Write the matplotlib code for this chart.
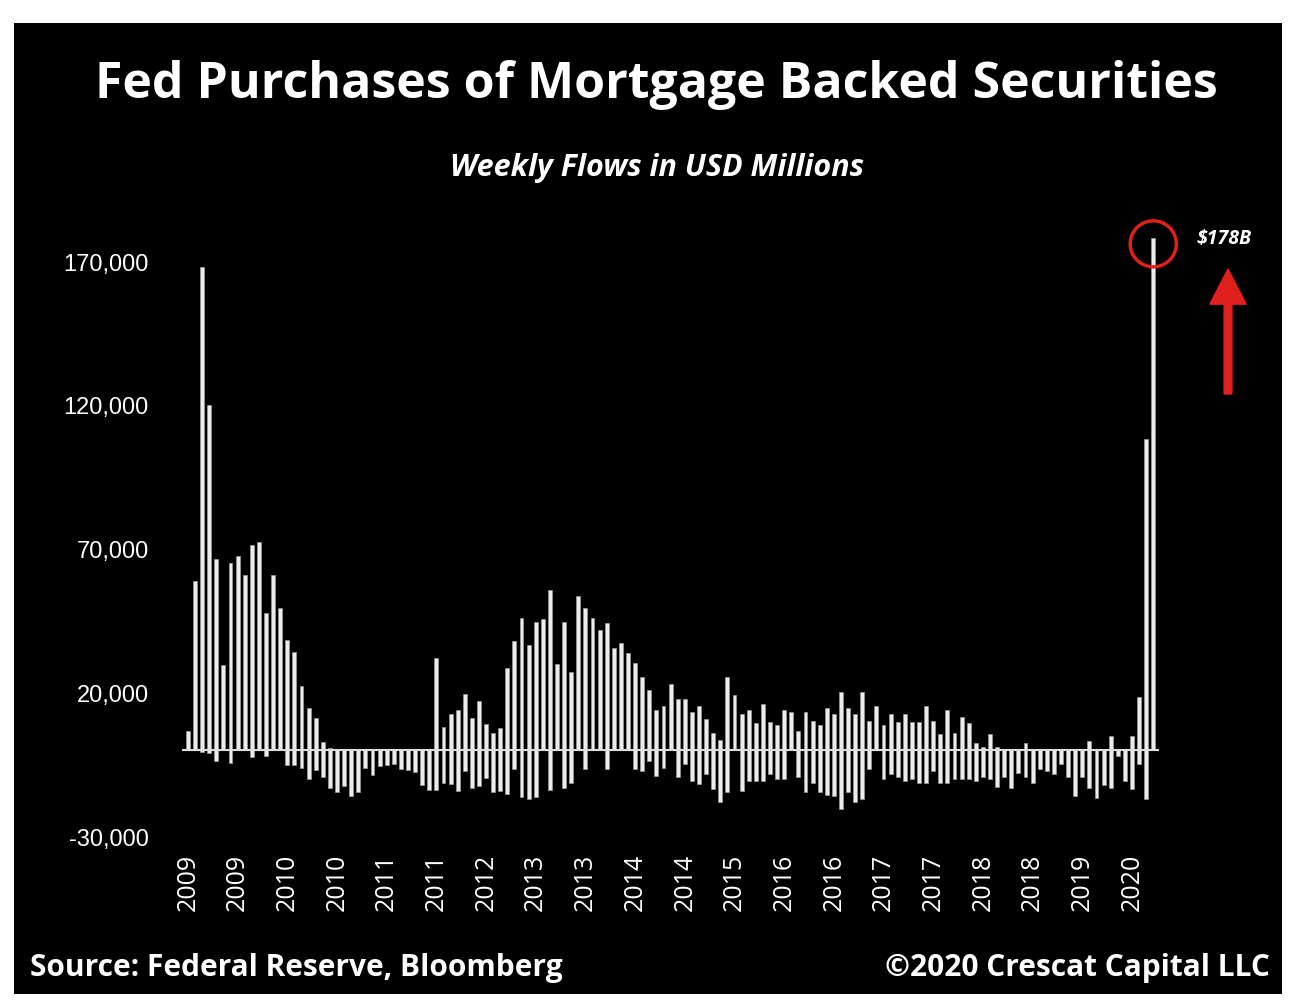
import matplotlib.pyplot as plt
from matplotlib.patches import Rectangle, Ellipse, FancyArrow

# weekly purchases (positive part) and runoff (negative part), USD millions
pos = [6500, 58700, 168000, 120000, 66400, 29400, 64900, 67300, 60900, 71200,
       72200, 47700, 60900, 49300, 38300, 33900, 22200, 14600, 11000, 2600,
       600, 0, 0, 0, 0, 0, 0, 0, 0, 0,
       0, 0, 0, 0, 0, 32000, 8000, 12600, 13800, 19400,
       11000, 16800, 8800, 5800, 7500, 28400, 37700, 46000, 36400, 44500,
       45400, 55700, 29700, 44500, 27100, 53500, 49300, 46000, 41500, 44100,
       35500, 37000, 33500, 30300, 25200, 20900, 13800, 15200, 23000, 17600,
       17600, 13000, 15300, 10700, 6000, 3400, 25400, 19100, 12400, 13800,
       9200, 16100, 9500, 8700, 13800, 13300, 6600, 13300, 10100, 8700,
       14400, 12600, 20200, 14400, 12400, 20200, 10100, 15300, 8700, 12400,
       9500, 12400, 9500, 9500, 15300, 10100, 5500, 13800, 6000, 11500,
       9200, 2200, 1000, 5500, 1000, 0, 0, 0, 2200, 0,
       0, 0, 0, 0, 0, 0, 0, 2900, 0, 0,
       4900, 0, 0, 4900, 18400, 108000, 178000]
neg = [0, 0, -600, -1000, -3900, 0, -4500, 0, 0, -2600,
       0, -2300, 0, 0, -5200, -5200, -6500, -10300, -7100, -9300,
       -13200, -14800, -12600, -16100, -14800, -6500, -8800, -5800, -5200, -4900,
       -6700, -7100, -7700, -12300, -13900, -13900, -11400, -11900, -14200, -7500,
       -13200, -12600, -9700, -14800, -14400, -15500, -6700, -16400, -17000, -16400,
       0, -13900, 0, -13200, -11400, 0, -6700, 0, 0, -6700,
       0, 0, 0, -6700, -7500, -3900, -9000, -6200, 0, -9600,
       -5000, -10800, -11900, -8500, -13700, -18300, -14800, 0, -14300, -11000,
       -11000, -11000, -8500, -10200, -10200, 0, -9400, -14800, -11700, -14800,
       -15700, -16000, -20600, -14800, -18300, -17200, -6700, 0, -10200, -8500,
       -9400, -10800, -10200, -11700, -11700, -7300, -11700, -11700, -10200, -10200,
       -10200, -11000, -9400, -10200, -12900, -9400, -13300, -7900, -9400, -11700,
       -6700, -7300, -8500, -5000, -9400, -16000, -9400, -13300, -16800, -12200,
       -13300, -2100, -11000, -13700, -5000, -17200, 0]
tick_labels = ["2009", "2009", "2010", "2010", "2011", "2011", "2012", "2013",
               "2013", "2014", "2014", "2015", "2016", "2016", "2017", "2017",
               "2018", "2018", "2019", "2020"]
yticks = [-30000, 20000, 70000, 120000, 170000]

fig = plt.figure(figsize=(13, 10.04), dpi=100, facecolor="white")
fig.patches.append(Rectangle((14 / 1300, 9 / 1004), 1268 / 1300, 971 / 1004,
                             transform=fig.transFigure, facecolor="black", zorder=-1))

ax = fig.add_axes([0.1402, 0.1663, 0.7513, 0.6156])
ax.set_facecolor("black")
x = list(range(len(pos)))
bar_kw = dict(width=0.55, color="#ececec", edgecolor="#9a9a9a", linewidth=0.5)
ax.bar(x, pos, **bar_kw)
ax.bar(x, neg, **bar_kw)
ax.axhline(0, color="#dddddd", lw=1.5)
ax.set_xlim(-0.8, 136.8)
ax.set_ylim(-30000, 185000)
for s in ax.spines.values():
    s.set_visible(False)
ax.set_yticks(yticks)
ax.set_yticklabels([f"{v:,}" for v in yticks], color="white", fontsize=17,
                   family="Liberation Sans")
ax.set_xticks(range(0, 7 * len(tick_labels), 7))
ax.set_xticklabels(tick_labels, rotation=90, color="white", fontsize=18,
                   family="Open Sans")
ax.tick_params(length=0, pad=12)
ax.tick_params(axis="y", pad=24)

# highlight last bar
ax.add_patch(Ellipse((136, 176000), 6.5, 16000, fill=False, edgecolor="#e0201c",
                     lw=2.5, clip_on=False))
ax.text(146, 178000, "$178B", color="white", fontsize=14, fontweight="bold",
        style="italic", ha="center", va="center", clip_on=False, family="Open Sans")
fig.patches.append(FancyArrow(1228 / 1300, (1004 - 395) / 1004, 0, 125 / 1004,
                              width=0.006, head_width=0.028, head_length=0.035,
                              length_includes_head=True, transform=fig.transFigure,
                              color="#e0201c"))

fig.text(0.505, 1 - 85 / 1004, "Fed Purchases of Mortgage Backed Securities",
         color="white", fontsize=36, fontweight="bold", ha="center", va="center",
         family="Open Sans")
fig.text(0.505, 1 - 168 / 1004, "Weekly Flows in USD Millions", color="white",
         fontsize=22, fontweight="bold", style="italic", ha="center", va="center",
         family="Open Sans")
fig.text(30 / 1300, 1 - 968 / 1004, "Source: Federal Reserve, Bloomberg",
         color="white", fontsize=21.5, fontweight="bold", va="center", family="Open Sans")
fig.text(1270 / 1300, 1 - 968 / 1004, "©2020 Crescat Capital LLC",
         color="white", fontsize=21.5, fontweight="bold", va="center", ha="right",
         family="Open Sans")

fig.savefig("out.png", dpi=100, facecolor="white")
